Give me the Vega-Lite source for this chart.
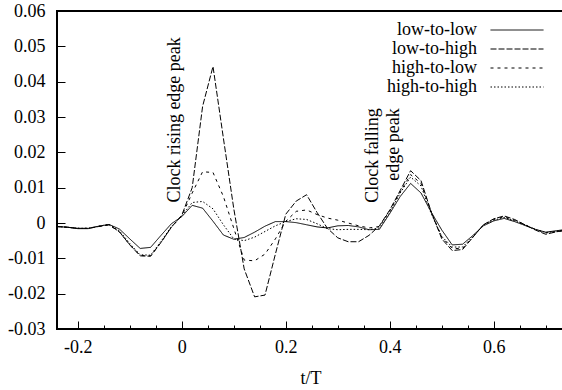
{
  "$schema": "https://vega.github.io/schema/vega-lite/v6.json",
  "width": 507,
  "height": 318,
  "autosize": "none",
  "padding": {"left": 57, "top": 11, "right": 0, "bottom": 61},
  "config": {"font": "Liberation Serif", "view": {"stroke": "black", "strokeWidth": 2}},
  "datasets": {
    "curves": [
      {"s":"low-to-low","t":-0.24,"v":-0.0010},{"s":"low-to-low","t":-0.22,"v":-0.0012},{"s":"low-to-low","t":-0.20,"v":-0.0016},{"s":"low-to-low","t":-0.18,"v":-0.0016},{"s":"low-to-low","t":-0.16,"v":-0.0009},{"s":"low-to-low","t":-0.14,"v":-0.0004},{"s":"low-to-low","t":-0.12,"v":-0.0017},{"s":"low-to-low","t":-0.10,"v":-0.0045},{"s":"low-to-low","t":-0.08,"v":-0.0072},{"s":"low-to-low","t":-0.06,"v":-0.0069},{"s":"low-to-low","t":-0.04,"v":-0.0035},{"s":"low-to-low","t":-0.02,"v":-0.0002},{"s":"low-to-low","t":0.00,"v":0.0018},{"s":"low-to-low","t":0.02,"v":0.0050},{"s":"low-to-low","t":0.04,"v":0.0042},{"s":"low-to-low","t":0.06,"v":0.0005},{"s":"low-to-low","t":0.08,"v":-0.0034},{"s":"low-to-low","t":0.10,"v":-0.0046},{"s":"low-to-low","t":0.12,"v":-0.0041},{"s":"low-to-low","t":0.14,"v":-0.0026},{"s":"low-to-low","t":0.16,"v":-0.0009},{"s":"low-to-low","t":0.18,"v":0.0004},{"s":"low-to-low","t":0.20,"v":0.0004},{"s":"low-to-low","t":0.22,"v":0.0001},{"s":"low-to-low","t":0.24,"v":-0.0005},{"s":"low-to-low","t":0.26,"v":-0.0011},{"s":"low-to-low","t":0.28,"v":-0.0014},{"s":"low-to-low","t":0.30,"v":-0.0008},{"s":"low-to-low","t":0.32,"v":-0.0007},{"s":"low-to-low","t":0.34,"v":-0.0011},{"s":"low-to-low","t":0.36,"v":-0.0019},{"s":"low-to-low","t":0.38,"v":-0.0018},{"s":"low-to-low","t":0.40,"v":0.0027},{"s":"low-to-low","t":0.42,"v":0.0075},{"s":"low-to-low","t":0.44,"v":0.0112},{"s":"low-to-low","t":0.46,"v":0.0085},{"s":"low-to-low","t":0.48,"v":0.0030},{"s":"low-to-low","t":0.50,"v":-0.0020},{"s":"low-to-low","t":0.52,"v":-0.0062},{"s":"low-to-low","t":0.54,"v":-0.0060},{"s":"low-to-low","t":0.56,"v":-0.0035},{"s":"low-to-low","t":0.58,"v":-0.0008},{"s":"low-to-low","t":0.60,"v":0.0006},{"s":"low-to-low","t":0.62,"v":0.0013},{"s":"low-to-low","t":0.64,"v":0.0004},{"s":"low-to-low","t":0.66,"v":-0.0007},{"s":"low-to-low","t":0.68,"v":-0.0018},{"s":"low-to-low","t":0.70,"v":-0.0026},{"s":"low-to-low","t":0.72,"v":-0.0022},{"s":"low-to-low","t":0.74,"v":-0.0018},
      {"s":"low-to-high","t":-0.24,"v":-0.0010},{"s":"low-to-high","t":-0.22,"v":-0.0012},{"s":"low-to-high","t":-0.20,"v":-0.0015},{"s":"low-to-high","t":-0.18,"v":-0.0015},{"s":"low-to-high","t":-0.16,"v":-0.0010},{"s":"low-to-high","t":-0.14,"v":-0.0005},{"s":"low-to-high","t":-0.12,"v":-0.0025},{"s":"low-to-high","t":-0.10,"v":-0.0062},{"s":"low-to-high","t":-0.08,"v":-0.0093},{"s":"low-to-high","t":-0.06,"v":-0.0094},{"s":"low-to-high","t":-0.04,"v":-0.0055},{"s":"low-to-high","t":-0.02,"v":-0.0012},{"s":"low-to-high","t":0.00,"v":0.0022},{"s":"low-to-high","t":0.02,"v":0.0100},{"s":"low-to-high","t":0.04,"v":0.0330},{"s":"low-to-high","t":0.06,"v":0.0443},{"s":"low-to-high","t":0.08,"v":0.0240},{"s":"low-to-high","t":0.10,"v":0.0040},{"s":"low-to-high","t":0.12,"v":-0.0130},{"s":"low-to-high","t":0.14,"v":-0.0209},{"s":"low-to-high","t":0.16,"v":-0.0204},{"s":"low-to-high","t":0.18,"v":-0.0088},{"s":"low-to-high","t":0.20,"v":0.0025},{"s":"low-to-high","t":0.22,"v":0.0062},{"s":"low-to-high","t":0.24,"v":0.0080},{"s":"low-to-high","t":0.26,"v":0.0030},{"s":"low-to-high","t":0.28,"v":-0.0015},{"s":"low-to-high","t":0.30,"v":-0.0042},{"s":"low-to-high","t":0.32,"v":-0.0053},{"s":"low-to-high","t":0.34,"v":-0.0053},{"s":"low-to-high","t":0.36,"v":-0.0035},{"s":"low-to-high","t":0.38,"v":-0.0008},{"s":"low-to-high","t":0.40,"v":0.0037},{"s":"low-to-high","t":0.42,"v":0.0092},{"s":"low-to-high","t":0.44,"v":0.0148},{"s":"low-to-high","t":0.46,"v":0.0120},{"s":"low-to-high","t":0.48,"v":0.0030},{"s":"low-to-high","t":0.50,"v":-0.0045},{"s":"low-to-high","t":0.52,"v":-0.0078},{"s":"low-to-high","t":0.54,"v":-0.0075},{"s":"low-to-high","t":0.56,"v":-0.0040},{"s":"low-to-high","t":0.58,"v":-0.0005},{"s":"low-to-high","t":0.60,"v":0.0012},{"s":"low-to-high","t":0.62,"v":0.0020},{"s":"low-to-high","t":0.64,"v":0.0010},{"s":"low-to-high","t":0.66,"v":-0.0005},{"s":"low-to-high","t":0.68,"v":-0.0020},{"s":"low-to-high","t":0.70,"v":-0.0032},{"s":"low-to-high","t":0.72,"v":-0.0025},{"s":"low-to-high","t":0.74,"v":-0.0020},
      {"s":"high-to-low","t":-0.24,"v":-0.0010},{"s":"high-to-low","t":-0.22,"v":-0.0012},{"s":"high-to-low","t":-0.20,"v":-0.0015},{"s":"high-to-low","t":-0.18,"v":-0.0015},{"s":"high-to-low","t":-0.16,"v":-0.0010},{"s":"high-to-low","t":-0.14,"v":-0.0005},{"s":"high-to-low","t":-0.12,"v":-0.0025},{"s":"high-to-low","t":-0.10,"v":-0.0062},{"s":"high-to-low","t":-0.08,"v":-0.0092},{"s":"high-to-low","t":-0.06,"v":-0.0093},{"s":"high-to-low","t":-0.04,"v":-0.0055},{"s":"high-to-low","t":-0.02,"v":-0.0012},{"s":"high-to-low","t":0.00,"v":0.0020},{"s":"high-to-low","t":0.02,"v":0.0085},{"s":"high-to-low","t":0.04,"v":0.0145},{"s":"high-to-low","t":0.06,"v":0.0143},{"s":"high-to-low","t":0.08,"v":0.0075},{"s":"high-to-low","t":0.10,"v":-0.0015},{"s":"high-to-low","t":0.12,"v":-0.0105},{"s":"high-to-low","t":0.14,"v":-0.0107},{"s":"high-to-low","t":0.16,"v":-0.0088},{"s":"high-to-low","t":0.18,"v":-0.0045},{"s":"high-to-low","t":0.20,"v":0.0005},{"s":"high-to-low","t":0.22,"v":0.0033},{"s":"high-to-low","t":0.24,"v":0.0037},{"s":"high-to-low","t":0.26,"v":0.0024},{"s":"high-to-low","t":0.28,"v":0.0014},{"s":"high-to-low","t":0.30,"v":0.0008},{"s":"high-to-low","t":0.32,"v":0.0000},{"s":"high-to-low","t":0.34,"v":-0.0008},{"s":"high-to-low","t":0.36,"v":-0.0014},{"s":"high-to-low","t":0.38,"v":-0.0010},{"s":"high-to-low","t":0.40,"v":0.0035},{"s":"high-to-low","t":0.42,"v":0.0088},{"s":"high-to-low","t":0.44,"v":0.0137},{"s":"high-to-low","t":0.46,"v":0.0112},{"s":"high-to-low","t":0.48,"v":0.0030},{"s":"high-to-low","t":0.50,"v":-0.0040},{"s":"high-to-low","t":0.52,"v":-0.0072},{"s":"high-to-low","t":0.54,"v":-0.0072},{"s":"high-to-low","t":0.56,"v":-0.0040},{"s":"high-to-low","t":0.58,"v":-0.0005},{"s":"high-to-low","t":0.60,"v":0.0010},{"s":"high-to-low","t":0.62,"v":0.0018},{"s":"high-to-low","t":0.64,"v":0.0008},{"s":"high-to-low","t":0.66,"v":-0.0005},{"s":"high-to-low","t":0.68,"v":-0.0018},{"s":"high-to-low","t":0.70,"v":-0.0028},{"s":"high-to-low","t":0.72,"v":-0.0025},{"s":"high-to-low","t":0.74,"v":-0.0020},
      {"s":"high-to-high","t":-0.24,"v":-0.0010},{"s":"high-to-high","t":-0.22,"v":-0.0012},{"s":"high-to-high","t":-0.20,"v":-0.0015},{"s":"high-to-high","t":-0.18,"v":-0.0015},{"s":"high-to-high","t":-0.16,"v":-0.0009},{"s":"high-to-high","t":-0.14,"v":-0.0004},{"s":"high-to-high","t":-0.12,"v":-0.0022},{"s":"high-to-high","t":-0.10,"v":-0.0058},{"s":"high-to-high","t":-0.08,"v":-0.0090},{"s":"high-to-high","t":-0.06,"v":-0.0091},{"s":"high-to-high","t":-0.04,"v":-0.0052},{"s":"high-to-high","t":-0.02,"v":-0.0010},{"s":"high-to-high","t":0.00,"v":0.0020},{"s":"high-to-high","t":0.02,"v":0.0058},{"s":"high-to-high","t":0.04,"v":0.0061},{"s":"high-to-high","t":0.06,"v":0.0040},{"s":"high-to-high","t":0.08,"v":-0.0005},{"s":"high-to-high","t":0.10,"v":-0.0045},{"s":"high-to-high","t":0.12,"v":-0.0050},{"s":"high-to-high","t":0.14,"v":-0.0040},{"s":"high-to-high","t":0.16,"v":-0.0024},{"s":"high-to-high","t":0.18,"v":-0.0008},{"s":"high-to-high","t":0.20,"v":0.0004},{"s":"high-to-high","t":0.22,"v":0.0012},{"s":"high-to-high","t":0.24,"v":0.0010},{"s":"high-to-high","t":0.26,"v":-0.0002},{"s":"high-to-high","t":0.28,"v":-0.0016},{"s":"high-to-high","t":0.30,"v":-0.0019},{"s":"high-to-high","t":0.32,"v":-0.0018},{"s":"high-to-high","t":0.34,"v":-0.0018},{"s":"high-to-high","t":0.36,"v":-0.0019},{"s":"high-to-high","t":0.38,"v":-0.0014},{"s":"high-to-high","t":0.40,"v":0.0030},{"s":"high-to-high","t":0.42,"v":0.0085},{"s":"high-to-high","t":0.44,"v":0.0130},{"s":"high-to-high","t":0.46,"v":0.0105},{"s":"high-to-high","t":0.48,"v":0.0025},{"s":"high-to-high","t":0.50,"v":-0.0038},{"s":"high-to-high","t":0.52,"v":-0.0068},{"s":"high-to-high","t":0.54,"v":-0.0068},{"s":"high-to-high","t":0.56,"v":-0.0038},{"s":"high-to-high","t":0.58,"v":-0.0006},{"s":"high-to-high","t":0.60,"v":0.0008},{"s":"high-to-high","t":0.62,"v":0.0016},{"s":"high-to-high","t":0.64,"v":0.0006},{"s":"high-to-high","t":0.66,"v":-0.0006},{"s":"high-to-high","t":0.68,"v":-0.0018},{"s":"high-to-high","t":0.70,"v":-0.0027},{"s":"high-to-high","t":0.72,"v":-0.0024},{"s":"high-to-high","t":0.74,"v":-0.0019}
    ],
    "notes": [
      {"t": -0.004, "v": 0.0526, "label": "Clock rising edge peak"},
      {"t": 0.377, "v": 0.0325, "label": "Clock falling\nedge peak"}
    ]
  },
  "encoding": {
    "x": {"field": "t", "type": "quantitative",
      "scale": {"domain": [-0.24, 0.735], "nice": false, "zero": false},
      "axis": {"values": [-0.2, -0.15, -0.1, -0.05, 0, 0.05, 0.1, 0.15, 0.2, 0.25, 0.3, 0.35, 0.4, 0.45, 0.5, 0.55, 0.6, 0.65, 0.7], "domain": false, "grid": false, "tickColor": "black", "tickWidth": 1,
        "tickSize": {"condition": {"test": "indexof([-0.2, 0, 0.2, 0.4, 0.6], datum.value) >= 0", "value": -8}, "value": -4},
        "labelPadding": 17, "labelFont": "Liberation Serif", "labelFontSize": 18, "labelColor": "black", "labelOverlap": false, "labelFlush": false,
        "labelExpr": "indexof([-0.2, 0, 0.2, 0.4, 0.6], datum.value) >= 0 ? '' + datum.value : ''",
        "title": "t/T", "titleFont": "Liberation Serif", "titleFontSize": 18, "titleFontWeight": "normal", "titleColor": "black", "titlePadding": 9}},
    "y": {"field": "v", "type": "quantitative",
      "scale": {"domain": [-0.03, 0.06], "nice": false, "zero": false},
      "axis": {"values": [-0.03, -0.02, -0.01, 0, 0.01, 0.02, 0.03, 0.04, 0.05, 0.06], "domain": false, "grid": false, "tickColor": "black", "tickWidth": 1, "tickSize": -8, "labelPadding": 20, "labelFont": "Liberation Serif", "labelFontSize": 18, "labelColor": "black", "labelOverlap": false, "labelFlush": false, "title": null, "labelExpr": "'' + datum.value"}}
  },
  "layer": [
    {
      "data": {"name": "curves"},
      "mark": {"type": "line", "color": "black", "strokeWidth": 1, "clip": true},
      "encoding": {
        "strokeDash": {"field": "s", "type": "nominal",
          "scale": {"domain": ["low-to-low", "low-to-high", "high-to-low", "high-to-high"], "range": [[1, 0], [6, 2], [3, 4], [1.5, 2]]},
          "legend": {"orient": "none", "legendX": 451, "legendY": 10, "title": null, "symbolType": "M-5.3,0H5.3", "symbolSize": 100, "symbolStrokeWidth": 1, "symbolStrokeColor": "black", "symbolFillColor": "transparent", "rowPadding": 1, "labelAlign": "right", "labelOffset": -49, "labelFontSize": 18, "labelFont": "Liberation Serif", "labelColor": "black", "labelLimit": 0, "padding": 0}}
      }
    },
    {
      "data": {"name": "notes"},
      "mark": {"type": "text", "angle": 270, "align": "right", "baseline": "alphabetic", "fontSize": 18, "font": "Liberation Serif", "lineHeight": 21, "lineBreak": "\n", "color": "black"},
      "encoding": {
        "text": {"field": "label"}
      }
    }
  ]
}
